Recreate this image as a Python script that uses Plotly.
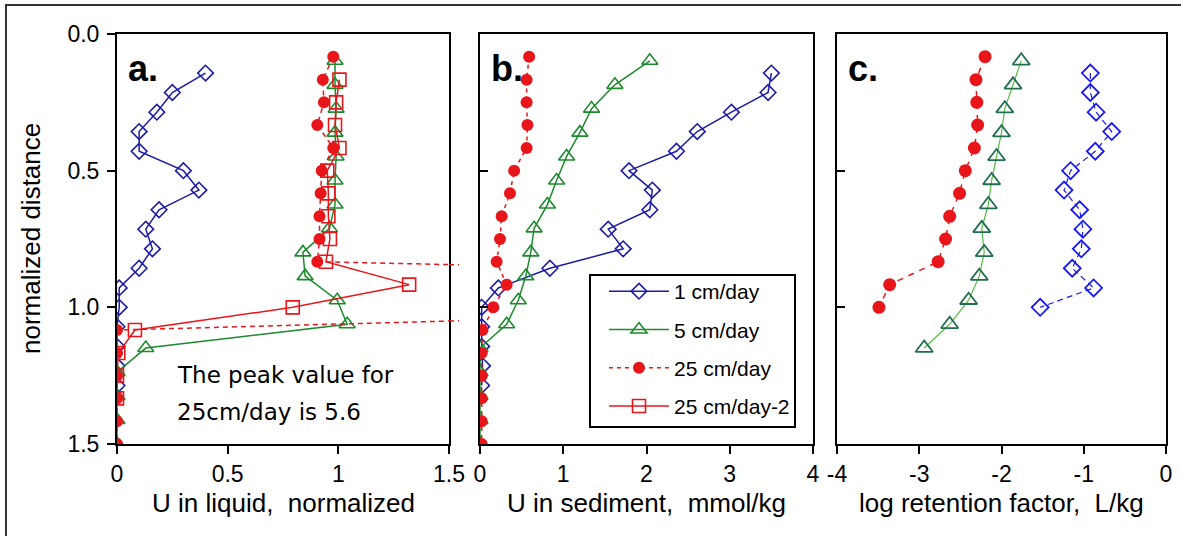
import plotly.graph_objects as go

# ---------------- data ----------------
depth_1cm = [0.143, 0.214, 0.286, 0.357, 0.429, 0.500, 0.571, 0.643, 0.714,
             0.786, 0.857, 0.929, 1.000, 1.071, 1.143, 1.214, 1.286]
depth_5cm = [0.098, 0.186, 0.273, 0.361, 0.448, 0.536, 0.624, 0.711, 0.799,
             0.886, 0.974, 1.062, 1.149, 1.237, 1.324, 1.412, 1.499]
depth_25cm = [0.083, 0.167, 0.250, 0.333, 0.417, 0.500, 0.583, 0.667, 0.750,
              0.833, 0.917, 1.000, 1.083, 1.167, 1.250, 1.333, 1.417, 1.500]
depth_25cm2 = [0.167, 0.250, 0.333, 0.417, 0.500, 0.583, 0.667, 0.750,
               0.833, 0.917, 1.000, 1.083, 1.167, 1.250, 1.333]

# panel a: U in liquid, normalized
liq_1cm = [0.40, 0.25, 0.18, 0.10, 0.10, 0.30, 0.37, 0.19, 0.13, 0.16, 0.10,
           0.01, 0.01, 0.0, 0.0, 0.0, 0.0]
liq_5cm = [0.985, 0.985, 0.99, 0.985, 0.99, 0.985, 0.985, 0.96, 0.84, 0.85,
           0.995, 1.04, 0.13, 0.0, 0.0, 0.0, 0.0]
liq_25cm = [0.977, 0.93, 0.935, 0.905, 0.977, 0.925, 0.92, 0.915, 0.915,
            0.905, 5.6, 3.8, 0.0, 0.0, 0.0, 0.0, 0.0, 0.0]
liq_25cm2 = [1.005, 0.99, 0.985, 1.005, 0.95, 0.955, 0.955, 0.962, 0.944,
             1.32, 0.794, 0.081, 0.006, 0.0, 0.0]

# panel b: U in sediment, mmol/kg
sed_1cm = [3.50, 3.46, 3.02, 2.61, 2.36, 1.79, 2.07, 2.04, 1.54, 1.72, 0.84,
           0.22, 0.02, 0.02, 0.02, 0.03, 0.02]
sed_5cm = [2.04, 1.62, 1.34, 1.20, 1.04, 0.92, 0.81, 0.65, 0.61, 0.55, 0.46,
           0.32, 0.0, 0.0, 0.0, 0.0, 0.0]
sed_25cm = [0.59, 0.56, 0.56, 0.57, 0.56, 0.41, 0.36, 0.26, 0.24, 0.20, 0.32,
            0.16, 0.03, 0.02, 0.02, 0.02, 0.02, 0.02]

# panel c: log retention factor, L/kg
ret_1cm = [-0.92, -0.92, -0.85, -0.66, -0.86, -1.16, -1.24, -1.05, -1.01,
           -1.03, -1.14, -0.88, -1.53]
ret_5cm = [-1.76, -1.86, -1.96, -2.00, -2.06, -2.12, -2.16, -2.24, -2.21,
           -2.27, -2.40, -2.63, -2.94]
ret_25cm = [-2.20, -2.31, -2.30, -2.29, -2.33, -2.44, -2.51, -2.63, -2.68,
            -2.77, -3.36, -3.49]

names = ["1 cm/day", "5 cm/day", "25 cm/day", "25 cm/day-2"]
y_ticks = [0.0, 0.5, 1.0, 1.5]
y_ticktext = ["0.0", "0.5", "1.0", "1.5"]
xa_ticks = [0, 0.5, 1, 1.5]
xa_ticktext = ["0", "0.5", "1", "1.5"]
xb_ticks = [0, 1, 2, 3, 4]
xb_ticktext = ["0", "1", "2", "3", "4"]
xc_ticks = [-4, -3, -2, -1, 0]
xc_ticktext = ["-4", "-3", "-2", "-1", "0"]
x_titles = ["U in liquid,\u00a0 normalized", "U in sediment,\u00a0 mmol/kg",
            "log retention factor,\u00a0 L/kg"]
panel_labels = ["a.", "b.", "c."]

# ---------------- style ----------------
W, H = 1181, 536
BLUE = "#1c1ca6"
GREEN = "#1e8a2e"
RED = "#e8161a"
BLUE_C = "#1a1aee"
GREEN_C = "#226e50"
AX = "Liberation Sans, Arial, sans-serif"


def px_x(p):
    return p / W


def px_y(p):
    return 1 - p / H


dom_a = [px_x(117), px_x(449)]
dom_b = [px_x(480), px_x(813)]
dom_c = [px_x(837), px_x(1166)]
dom_y = [px_y(444), px_y(34)]

fig = go.Figure()

# panel b traces (also legend entries)
fig.add_trace(go.Scatter(x=sed_1cm, y=depth_1cm, xaxis="x2", yaxis="y2", name=names[0],
                         mode="lines+markers", legendgroup="g1", legendrank=1,
                         line=dict(color=BLUE, width=1.5),
                         marker=dict(symbol="diamond-open", size=12, color=BLUE,
                                     line=dict(width=1.6, color=BLUE))))
fig.add_trace(go.Scatter(x=sed_5cm, y=depth_5cm, xaxis="x2", yaxis="y2", name=names[1],
                         mode="lines+markers", legendgroup="g2", legendrank=2,
                         line=dict(color=GREEN, width=1.5),
                         marker=dict(symbol="triangle-up-open", size=14, color=GREEN,
                                     line=dict(width=1.6, color=GREEN))))
fig.add_trace(go.Scatter(x=sed_25cm, y=depth_25cm, xaxis="x2", yaxis="y2", name=names[2],
                         mode="lines+markers", legendgroup="g3", legendrank=3,
                         line=dict(color=RED, width=1.5, dash="4px,4px"),
                         marker=dict(symbol="circle", size=12, color=RED)))

# panel a traces
fig.add_trace(go.Scatter(x=liq_1cm, y=depth_1cm, xaxis="x", yaxis="y", name=names[0],
                         mode="lines+markers", showlegend=False,
                         line=dict(color=BLUE, width=1.5),
                         marker=dict(symbol="diamond-open", size=12, color=BLUE,
                                     line=dict(width=1.6, color=BLUE))))
fig.add_trace(go.Scatter(x=liq_5cm, y=depth_5cm, xaxis="x", yaxis="y", name=names[1],
                         mode="lines+markers", showlegend=False,
                         line=dict(color=GREEN, width=1.5),
                         marker=dict(symbol="triangle-up-open", size=14, color=GREEN,
                                     line=dict(width=1.6, color=GREEN))))
fig.add_trace(go.Scatter(x=liq_25cm, y=depth_25cm, xaxis="x", yaxis="y", name=names[2],
                         mode="lines+markers", showlegend=False,
                         line=dict(color=RED, width=1.5, dash="5px,4px"),
                         marker=dict(symbol="circle", size=12, color=RED)))
fig.add_trace(go.Scatter(x=liq_25cm2, y=depth_25cm2, xaxis="x", yaxis="y", name=names[3],
                         mode="lines+markers", legendgroup="g4", legendrank=4,
                         line=dict(color=RED, width=1.5),
                         marker=dict(symbol="square-open", size=13, color=RED,
                                     line=dict(width=1.6, color=RED))))

# panel c traces
fig.add_trace(go.Scatter(x=ret_1cm, y=depth_1cm[:len(ret_1cm)], xaxis="x3", yaxis="y3",
                         name=names[0], mode="lines+markers", showlegend=False,
                         line=dict(color=BLUE_C, width=1.2, dash="6px,4px"),
                         marker=dict(symbol="diamond-open", size=13, color=BLUE_C,
                                     line=dict(width=1.8, color=BLUE_C))))
fig.add_trace(go.Scatter(x=ret_5cm, y=depth_5cm[:len(ret_5cm)], xaxis="x3", yaxis="y3",
                         name=names[1], mode="lines+markers", showlegend=False,
                         line=dict(color="#55bb44", width=1.2),
                         marker=dict(symbol="triangle-up-open", size=15, color=GREEN_C,
                                     line=dict(width=1.8, color=GREEN_C))))
fig.add_trace(go.Scatter(x=ret_25cm, y=depth_25cm[:len(ret_25cm)], xaxis="x3", yaxis="y3",
                         name=names[2], mode="lines+markers", showlegend=False,
                         line=dict(color=RED, width=1.5, dash="6px,6px"),
                         marker=dict(symbol="circle", size=13, color=RED)))

axis_common = dict(showline=True, linecolor="black", linewidth=2, mirror=True,
                   showgrid=False, zeroline=False, tickcolor="black", tickwidth=2,
                   ticklen=8, automargin=False,
                   tickfont=dict(family=AX, size=23, color="black"))

fig.update_layout(
    width=W, height=H, margin=dict(l=0, r=0, t=0, b=0, pad=0, autoexpand=False),
    paper_bgcolor="white", plot_bgcolor="white",
    xaxis=dict(domain=dom_a, range=[0, 1.5], tickvals=xa_ticks, ticktext=xa_ticktext,
               ticks="outside", anchor="y", **axis_common),
    yaxis=dict(domain=dom_y, range=[1.5, 0], tickvals=y_ticks, ticktext=y_ticktext,
               ticks="outside", anchor="x", ticklabelstandoff=3, **axis_common),
    xaxis2=dict(domain=dom_b, range=[0, 4], tickvals=xb_ticks, ticktext=xb_ticktext,
                ticks="outside", anchor="y2", **axis_common),
    yaxis2=dict(domain=dom_y, range=[1.5, 0], tickvals=y_ticks, showticklabels=False,
                ticks="inside", anchor="x2", **axis_common),
    xaxis3=dict(domain=dom_c, range=[-4, 0], tickvals=xc_ticks, ticktext=xc_ticktext,
                ticks="outside", anchor="y3", **axis_common),
    yaxis3=dict(domain=dom_y, range=[1.5, 0], tickvals=y_ticks, showticklabels=False,
                ticks="inside", anchor="x3", **axis_common),
    showlegend=True,
    legend=dict(x=px_x(604), y=px_y(271), xanchor="left", yanchor="top",
                bgcolor="rgba(255,255,255,0)", borderwidth=0,
                font=dict(family=AX, size=21, color="black"),
                tracegroupgap=8, itemwidth=60),
)

annotations = []
# y title
annotations.append(dict(text="normalized distance", x=px_x(31), y=px_y(239),
                        xref="paper", yref="paper", showarrow=False, textangle=-90,
                        xanchor="center", yanchor="middle",
                        font=dict(family=AX, size=26, color="black")))
# x titles
for dom, t in zip([dom_a, dom_b, dom_c], x_titles):
    annotations.append(dict(text=t, x=(dom[0] + dom[1]) / 2, y=px_y(503),
                            xref="paper", yref="paper", showarrow=False,
                            xanchor="center", yanchor="middle",
                            font=dict(family=AX, size=26, color="black")))
# panel labels
for dom, t in zip([dom_a, dom_b, dom_c], panel_labels):
    annotations.append(dict(text="<b>%s</b>" % t, x=dom[0] + px_x(9), y=px_y(68),
                            xref="paper", yref="paper", showarrow=False,
                            xanchor="left", yanchor="middle",
                            font=dict(family=AX, size=36, color="black")))
# note
annotations.append(dict(text="The peak value for", x=px_x(175), y=px_y(375),
                        xref="paper", yref="paper", showarrow=False,
                        xanchor="left", yanchor="middle",
                        font=dict(family="DejaVu Sans", size=23, color="black")))
annotations.append(dict(text="25cm/day is 5.6", x=px_x(175), y=px_y(412),
                        xref="paper", yref="paper", showarrow=False,
                        xanchor="left", yanchor="middle",
                        font=dict(family="DejaVu Sans", size=23, color="black")))
fig.update_layout(annotations=annotations)


# dashed continuation of the off-scale 25 cm/day peak beyond panel a
def interp_y(x0, y0, x1, y1, x):
    return y0 + (y1 - y0) * (x - x0) / (x1 - x0)


peak_i = liq_25cm.index(max(liq_25cm))
segs = [(liq_25cm[peak_i - 1], depth_25cm[peak_i - 1], liq_25cm[peak_i], depth_25cm[peak_i]),
        (liq_25cm[peak_i + 1], depth_25cm[peak_i + 1], liq_25cm[peak_i + 2], depth_25cm[peak_i + 2])]
shapes = []
xa_end = 1.5
x_ext = 1.5 + 10 / (449 - 117) * 1.5
for (x0, y0, x1, y1) in segs:
    shapes.append(dict(type="line", xref="paper", yref="y",
                       x0=dom_a[1], x1=dom_a[1] + px_x(10),
                       y0=interp_y(x0, y0, x1, y1, xa_end),
                       y1=interp_y(x0, y0, x1, y1, x_ext),
                       line=dict(color=RED, width=1.5, dash="5px,4px")))
# legend frame
shapes.append(dict(type="rect", xref="paper", yref="paper",
                   x0=px_x(590), x1=px_x(795), y0=px_y(427), y1=px_y(275),
                   line=dict(color="black", width=2), fillcolor="rgba(0,0,0,0)",
                   layer="below"))
# outer figure frame (left and top edges visible)
shapes.append(dict(type="rect", xref="paper", yref="paper",
                   x0=px_x(6), x1=1.02, y0=-0.05, y1=px_y(5),
                   line=dict(color="#333333", width=2), fillcolor="rgba(0,0,0,0)"))
fig.update_layout(shapes=shapes)

fig.write_html("out.html", config={"displayModeBar": False},
               post_script="document.body.style.margin='0px';")
